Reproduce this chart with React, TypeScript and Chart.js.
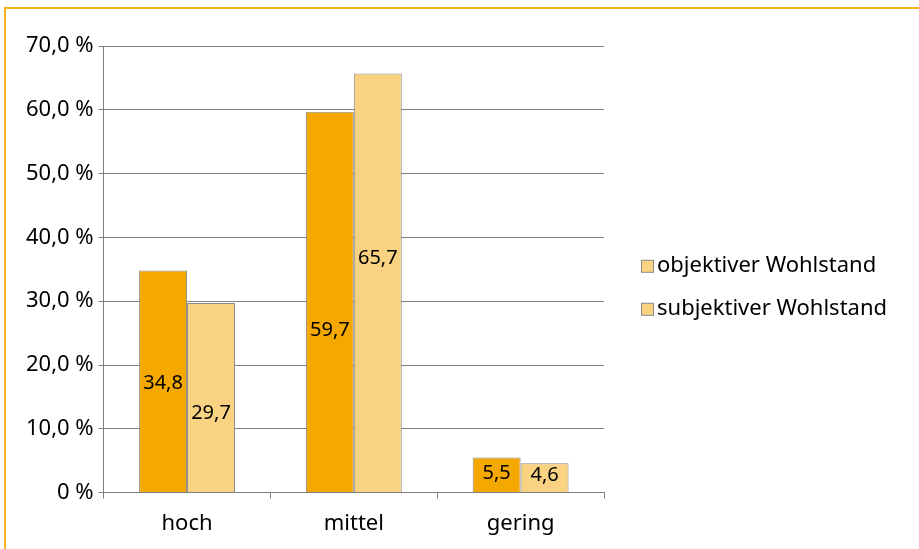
import React, { useEffect, useRef } from "react";
import { Chart, registerables } from "chart.js";

Chart.register(...registerables);

const categories = ["hoch", "mittel", "gering"];
const objektiv = [34.8, 59.7, 5.5];
const subjektiv = [29.7, 65.7, 4.6];
const seriesNames = ["objektiver Wohlstand", "subjektiver Wohlstand"];
// vertical value at which each bar's label is centred (as in the original)
const objektivLabelAt = [17.1, 25.4, 3.0];
const subjektivLabelAt = [12.4, 36.7, 2.7];

const DARK = "#F5A800";
const LIGHT = "#FAD382";
const FONT = "'Noto Sans', sans-serif";

const barLabels = {
  id: "barLabels",
  afterDatasetsDraw(chart: any) {
    const ctx = chart.ctx;
    const y = chart.scales.y;
    const positions = [objektivLabelAt, subjektivLabelAt];
    ctx.save();
    ctx.font = `20px ${FONT}`;
    ctx.fillStyle = "#000";
    ctx.textAlign = "center";
    ctx.textBaseline = "middle";
    chart.data.datasets.forEach((ds: any, di: number) => {
      const meta = chart.getDatasetMeta(di);
      meta.data.forEach((bar: any, i: number) => {
        const txt = ds.data[i].toFixed(1).replace(".", ",");
        ctx.fillText(txt, bar.x, y.getPixelForValue(positions[di][i]));
      });
    });
    ctx.restore();
  },
};

// Legend drawn to the right of the plot (both swatches in the light colour, as in the original)
const sideLegend = {
  id: "sideLegend",
  afterDraw(chart: any) {
    const ctx = chart.ctx;
    const area = chart.chartArea;
    const x0 = area.right + 37;
    const yMid = (area.top + area.bottom) / 2 + 17;
    const gap = 43;
    ctx.save();
    ctx.font = `22px ${FONT}`;
    ctx.textBaseline = "middle";
    ctx.textAlign = "left";
    chart.data.datasets.forEach((ds: any, i: number) => {
      const yc = yMid + (i - (chart.data.datasets.length - 1) / 2) * gap;
      ctx.fillStyle = LIGHT;
      ctx.fillRect(x0 + 0.5, yc - 5 + 0.5, 12, 12);
      ctx.strokeStyle = "#8a8a8a";
      ctx.lineWidth = 1;
      ctx.strokeRect(x0 + 0.5, yc - 5 + 0.5, 12, 12);
      ctx.fillStyle = "#000";
      ctx.fillText(ds.label, x0 + 16, yc + 1);
    });
    ctx.restore();
  },
};

export default function App() {
  const ref = useRef<HTMLCanvasElement>(null);
  useEffect(() => {
    if (!ref.current) return;
    const chart = new Chart(ref.current, {
      type: "bar",
      data: {
        labels: categories,
        datasets: [
          {
            label: seriesNames[0],
            data: objektiv,
            backgroundColor: DARK,
            borderColor: "#8a8a8a",
            borderWidth: 1,
            categoryPercentage: 0.575,
            barPercentage: 1,
          },
          {
            label: seriesNames[1],
            data: subjektiv,
            backgroundColor: LIGHT,
            borderColor: "#8a8a8a",
            borderWidth: 1,
            categoryPercentage: 0.575,
            barPercentage: 1,
          },
        ],
      },
      options: {
        animation: false,
        responsive: false,
        devicePixelRatio: 1,
        layout: { padding: { left: 21, top: 46, right: 315, bottom: 0 } },
        plugins: {
          tooltip: { enabled: false },
          legend: { display: false },
        },
        scales: {
          x: {
            offset: true,
            grid: {
              offset: true,
              drawOnChartArea: false,
              drawTicks: true,
              tickLength: 6,
              color: "#808080",
            },
            border: { color: "#808080", width: 1 },
            ticks: { font: { family: FONT, size: 22 }, color: "#000", padding: 12 },
          },
          y: {
            min: 0,
            max: 70,
            ticks: {
              stepSize: 10,
              font: { family: FONT, size: 22 },
              color: "#000",
              padding: 5,
              callback: (v: any) =>
                v === 0 ? "0 %" : Number(v).toFixed(1).replace(".", ",") + " %",
            },
            grid: { color: "#808080", tickLength: 5 },
            border: { color: "#808080", width: 1 },
          },
        },
      },
      plugins: [barLabels, sideLegend],
    });
    return () => chart.destroy();
  }, []);

  return (
    <div style={{ position: "fixed", left: 0, top: 0, width: 919, height: 549, background: "#fff" }}>
      <div
        style={{
          position: "absolute",
          left: 4,
          top: 7,
          width: 1000,
          height: 1000,
          border: "2px solid #F5B21E",
          boxSizing: "border-box",
        }}
      />
      <canvas ref={ref} width={919} height={549} style={{ position: "absolute", left: 0, top: 0 }} />
    </div>
  );
}
